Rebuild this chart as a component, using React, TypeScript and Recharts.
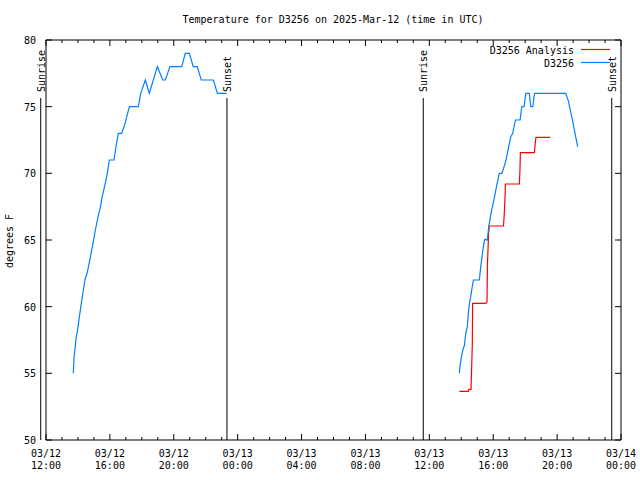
import React from 'react';
import { LineChart, Line, XAxis, YAxis, ReferenceLine } from 'recharts';

// hours after 03/12 12:00 UTC
const obsDay1Hours = [1.71, 1.75, 1.88, 1.98, 2.09, 2.21, 2.34, 2.44, 2.59, 2.76, 2.92, 3.09, 3.26, 3.43, 3.49, 3.71, 3.84, 3.96, 4.26, 4.38, 4.53, 4.74, 4.95, 5.22, 5.78, 5.93, 6.22, 6.47, 6.97, 7.31, 7.47, 7.76, 8.5, 8.72, 8.97, 9.22, 9.47, 9.72, 10.48, 10.73, 11.31];
const obsDay1Temps = [55, 56.1, 57.6, 58.25, 59.25, 60.25, 61.25, 62, 62.6, 63.6, 64.6, 65.75, 66.75, 67.6, 68.1, 69.25, 70, 71, 71, 72, 73, 73, 73.75, 75, 75, 76, 77, 76, 78, 77, 77, 78, 78, 79, 79, 78, 78, 77, 77, 76, 76];

const obsDay2Hours = [25.88, 25.92, 25.99, 26.05, 26.13, 26.19, 26.28, 26.38, 26.44, 26.51, 26.59, 26.68, 26.76, 27.13, 27.22, 27.3, 27.38, 27.47, 27.63, 27.72, 27.85, 27.93, 28.05, 28.22, 28.38, 28.55, 28.68, 28.8, 28.97, 29.1, 29.22, 29.39, 29.68, 29.79, 29.93, 30.04, 30.26, 30.35, 30.48, 30.58, 32.54, 32.71, 32.85, 32.98, 33.12, 33.29];
const obsDay2Temps = [55, 55.5, 56.1, 56.5, 56.9, 57.05, 58, 58.5, 59.5, 60.25, 60.75, 61.45, 62, 62, 63, 63.75, 64.5, 65.05, 65, 66, 66.9, 67.4, 68.05, 69.1, 70, 70, 70.5, 71, 72, 72.75, 73, 74, 74, 75, 75, 76, 76, 75, 75, 76, 76, 75.4, 74.6, 73.9, 73, 72];

const analysisHours = [25.88, 26.44, 26.48, 26.61, 26.69, 26.71, 27.53, 27.61, 27.64, 27.71, 27.76, 28.64, 28.69, 28.75, 28.76, 29.64, 29.68, 29.7, 30.58, 30.64, 30.68, 31.56];
const analysisTemps = [53.65, 53.65, 53.8, 53.8, 57.1, 60.25, 60.25, 60.35, 63.2, 65.5, 66.05, 66.05, 66.9, 68.5, 69.2, 69.2, 70.5, 71.55, 71.55, 72.4, 72.7, 72.7];

const sunHours = [-0.33, 11.33, 23.62, 35.42];
const sunLabels = ['Sunrise', 'Sunset', 'Sunrise', 'Sunset'];

const tickDates = ['03/12', '03/12', '03/12', '03/13', '03/13', '03/13', '03/13', '03/13', '03/13', '03/14'];
const tickTimes = ['12:00', '16:00', '20:00', '00:00', '04:00', '08:00', '12:00', '16:00', '20:00', '00:00'];
const hourTicks = Array.from({ length: 37 }, (_, i) => i);
const tempTicks = [50, 55, 60, 65, 70, 75, 80];

const FONT = 'DejaVu Sans Mono';
const BLUE = '#0080ff';
const RED = '#ff0000';

const toRows = (hours: number[], temps: number[]) => hours.map((t, i) => ({ t, v: temps[i] }));
const obsDay1 = toRows(obsDay1Hours, obsDay1Temps);
const obsDay2 = toRows(obsDay2Hours, obsDay2Temps);
const analysis = toRows(analysisHours, analysisTemps);

const BottomTick = (p: any) => {
  const h = p.payload.value;
  const major = h % 4 === 0;
  const k = h / 4;
  return (
    <g>
      <line x1={p.x} y1={p.y} x2={p.x} y2={p.y - (major ? 6 : 3)} stroke="#000" />
      {major && (
        <text x={p.x} y={p.y + 17} textAnchor="middle" fontFamily={FONT} fontSize={10} fill="#000">
          <tspan x={p.x}>{tickDates[k]}</tspan>
          <tspan x={p.x} dy={12}>{tickTimes[k]}</tspan>
        </text>
      )}
    </g>
  );
};

const TopTick = (p: any) => {
  const major = p.payload.value % 4 === 0;
  return <line x1={p.x} y1={p.y} x2={p.x} y2={p.y + (major ? 6 : 3)} stroke="#000" />;
};

const LeftTick = (p: any) => (
  <g>
    <line x1={p.x} y1={p.y} x2={p.x + 6} y2={p.y} stroke="#000" />
    <text x={p.x - 10} y={p.y + 4} textAnchor="end" fontFamily={FONT} fontSize={10} fill="#000">
      {p.payload.value}
    </text>
  </g>
);

const RightTick = (p: any) => <line x1={p.x} y1={p.y} x2={p.x - 6} y2={p.y} stroke="#000" />;

const Annotations = () => (
  <g fontFamily={FONT} fontSize={10} fill="#000">
    <text x={333} y={23} textAnchor="middle">Temperature for D3256 on 2025-Mar-12 (time in UTC)</text>
    <text x={574} y={54} textAnchor="end">D3256 Analysis</text>
    <line x1={581} y1={49.5} x2={610} y2={49.5} stroke={RED} strokeWidth={1.2} />
    <text x={574} y={67} textAnchor="end">D3256</text>
    <line x1={581} y1={62.5} x2={610} y2={62.5} stroke={BLUE} strokeWidth={1.2} />
    <text x={13} y={241} transform="rotate(-90 13 241)" textAnchor="middle">degrees F</text>
  </g>
);

const sunLabel = (name: string) => (p: any) => {
  const x = p.viewBox.x + 4;
  const y = p.viewBox.y - 6;
  return (
    <text x={x} y={y} transform={`rotate(-90 ${x} ${y})`} textAnchor="start" fontFamily={FONT} fontSize={10} fill="#000">
      {name}
    </text>
  );
};

export default function App() {
  return (
    <div style={{ position: 'absolute', left: 0, top: 0, background: '#fff' }}>
      <LineChart width={640} height={480} margin={{ top: 39, right: 18, left: 0, bottom: 0 }}>
        <XAxis
          xAxisId="bottom"
          dataKey="t"
          type="number"
          domain={[0, 36]}
          allowDataOverflow
          ticks={hourTicks}
          interval={0}
          height={40}
          tickSize={0}
          tickMargin={0}
          tickLine={false}
          tick={<BottomTick />}
          axisLine={{ stroke: '#000' }}
        />
        <XAxis
          xAxisId="top"
          orientation="top"
          dataKey="t"
          type="number"
          domain={[0, 36]}
          allowDataOverflow
          ticks={hourTicks}
          interval={0}
          height={1}
          tickSize={0}
          tickMargin={0}
          tickLine={false}
          tick={<TopTick />}
          axisLine={{ stroke: '#000' }}
        />
        <YAxis
          yAxisId="left"
          type="number"
          domain={[50, 80]}
          allowDataOverflow
          ticks={tempTicks}
          interval={0}
          width={46}
          tickSize={0}
          tickMargin={0}
          tickLine={false}
          tick={<LeftTick />}
          axisLine={{ stroke: '#000' }}
          label={{ content: () => <Annotations /> }}
        />
        <YAxis
          yAxisId="right"
          orientation="right"
          type="number"
          domain={[50, 80]}
          allowDataOverflow
          ticks={tempTicks}
          interval={0}
          width={1}
          tickSize={0}
          tickMargin={0}
          tickLine={false}
          tick={<RightTick />}
          axisLine={{ stroke: '#000' }}
        />
        {sunHours.map((h, i) => (
          <ReferenceLine
            key={i}
            xAxisId="bottom"
            yAxisId="left"
            ifOverflow="visible"
            segment={[{ x: h, y: 75.65 }, { x: h, y: 50 }]}
            stroke="#000"
            strokeWidth={1}
            label={{ content: sunLabel(sunLabels[i]) }}
          />
        ))}
        <Line data={analysis} xAxisId="bottom" yAxisId="left" dataKey="v" stroke={RED} strokeWidth={1.2} dot={false} isAnimationActive={false} type="linear" />
        <Line data={obsDay1} xAxisId="bottom" yAxisId="left" dataKey="v" stroke={BLUE} strokeWidth={1.2} dot={false} isAnimationActive={false} type="linear" />
        <Line data={obsDay2} xAxisId="bottom" yAxisId="left" dataKey="v" stroke={BLUE} strokeWidth={1.2} dot={false} isAnimationActive={false} type="linear" />
      </LineChart>
    </div>
  );
}
